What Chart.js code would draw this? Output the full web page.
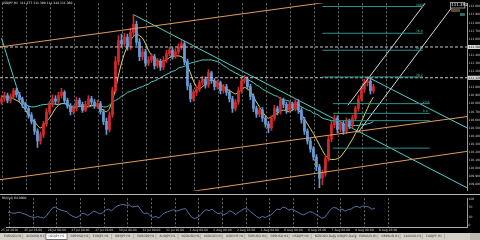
<!DOCTYPE html>
<html><head><meta charset="utf-8">
<script src="https://cdn.jsdelivr.net/npm/chart.js@4.4.1/dist/chart.umd.min.js"></script>
<style>
html,body{margin:0;padding:0;background:#000;width:480px;height:240px;overflow:hidden}
canvas{position:absolute;left:0}
#c1{top:0}
#sep{position:absolute;left:0;top:194px;width:480px;height:1px;background:#b8b8b8}
#c2{top:195px}
#c3{top:233px}
</style></head><body>
<canvas id="c1" width="480" height="194"></canvas>
<div id="sep"></div>
<canvas id="c2" width="480" height="38"></canvas>
<canvas id="c3" width="480" height="7"></canvas>
<script>
// ---------- DATA ----------
const open = [110.82,110.86,110.90,110.84,110.89,110.96,110.91,110.85,110.79,110.74,
 110.66,110.58,110.46,110.34,110.41,110.55,110.70,110.79,110.86,110.83,
 110.90,110.94,110.84,110.77,110.70,110.74,110.84,110.79,110.72,110.79,
 110.86,110.82,110.77,110.80,110.70,110.58,110.48,110.66,110.96,111.32,
 111.58,111.54,111.62,111.50,111.68,111.78,111.56,111.38,111.44,111.30,
 111.34,111.38,111.27,111.32,111.25,111.34,111.42,111.46,111.39,111.44,
 111.50,111.54,111.32,111.02,110.86,110.94,110.98,111.06,111.10,111.03,
 111.18,111.08,111.01,111.06,110.96,111.01,110.94,110.86,110.74,110.82,
 110.96,111.08,111.10,111.01,110.89,110.74,110.67,110.72,110.62,110.55,
 110.50,110.62,110.74,110.70,110.84,110.79,110.72,110.79,110.74,110.82,
 110.72,110.60,110.46,110.34,110.24,110.14,110.02,109.88,109.94,110.12,
 110.36,110.54,110.62,110.48,110.55,110.46,110.58,110.53,110.62,110.74,
 110.86,110.98,111.06,111.08,110.96];
const high = [110.90,110.94,110.93,110.92,110.99,110.99,110.94,110.88,110.82,110.77,
 110.69,110.61,110.49,110.45,110.58,110.74,110.83,110.91,110.90,110.94,
 110.99,110.96,110.87,110.80,110.78,110.88,110.87,110.82,110.83,110.90,
 110.89,110.85,110.84,110.83,110.73,110.62,110.70,111.00,111.38,111.64,
 111.66,111.67,111.66,111.73,111.90,111.82,111.60,111.48,111.47,111.38,
 111.42,111.41,111.36,111.35,111.38,111.46,111.50,111.49,111.48,111.54,
 111.58,111.57,111.35,111.05,110.97,111.02,111.09,111.14,111.13,111.22,
 111.20,111.11,111.09,111.08,111.04,111.04,110.97,110.89,110.85,111.00,
 111.12,111.15,111.13,111.04,110.92,110.77,110.75,110.75,110.65,110.58,
 110.65,110.78,110.77,110.88,110.87,110.82,110.82,110.82,110.86,110.85,
 110.75,110.63,110.49,110.37,110.27,110.17,110.05,109.98,110.16,110.40,
 110.58,110.66,110.65,110.58,110.58,110.62,110.61,110.66,110.77,110.90,
 111.02,111.10,111.13,111.11,111.04];
const low = [110.79,110.83,110.81,110.81,110.86,110.88,110.82,110.75,110.70,110.62,
 110.55,110.42,110.26,110.30,110.38,110.52,110.67,110.76,110.80,110.80,
 110.87,110.81,110.74,110.66,110.67,110.71,110.76,110.69,110.70,110.76,
 110.79,110.74,110.74,110.67,110.54,110.42,110.45,110.63,110.93,111.28,
 111.50,111.51,111.46,111.47,111.64,111.52,111.33,111.34,111.26,111.27,
 111.31,111.23,111.24,111.21,111.22,111.31,111.39,111.35,111.36,111.41,
 111.47,111.28,110.97,110.82,110.83,110.90,110.95,111.03,110.99,111.00,
 111.05,110.97,110.98,110.92,110.93,110.90,110.82,110.69,110.71,110.79,
 110.93,111.05,110.98,110.85,110.70,110.63,110.64,110.58,110.51,110.44,
 110.47,110.59,110.66,110.67,110.75,110.68,110.69,110.71,110.71,110.68,
 110.56,110.42,110.30,110.20,110.10,109.97,109.76,109.80,109.90,110.09,
 110.33,110.50,110.44,110.45,110.42,110.43,110.49,110.50,110.59,110.71,
 110.83,110.94,111.02,110.92,110.93];
const close = [110.86,110.90,110.84,110.89,110.96,110.91,110.85,110.79,110.74,110.66,
 110.58,110.46,110.34,110.41,110.55,110.70,110.79,110.86,110.83,110.90,
 110.94,110.84,110.77,110.70,110.74,110.84,110.79,110.72,110.79,110.86,
 110.82,110.77,110.80,110.70,110.58,110.48,110.66,110.96,111.32,111.58,
 111.54,111.62,111.50,111.68,111.78,111.56,111.38,111.44,111.30,111.34,
 111.38,111.27,111.32,111.25,111.34,111.42,111.46,111.39,111.44,111.50,
 111.54,111.32,111.02,110.86,110.94,110.98,111.06,111.10,111.03,111.18,
 111.08,111.01,111.06,110.96,111.01,110.94,110.86,110.74,110.82,110.96,
 111.08,111.10,111.01,110.89,110.74,110.67,110.72,110.62,110.55,110.50,
 110.62,110.74,110.70,110.84,110.79,110.72,110.79,110.74,110.82,110.72,
 110.60,110.46,110.34,110.24,110.14,110.02,109.88,109.94,110.12,110.36,
 110.54,110.62,110.48,110.55,110.46,110.58,110.53,110.62,110.74,110.86,
 110.98,111.06,111.08,110.96,111.01];
const maFast = [110.89,110.89,110.88,110.88,110.86,110.84,110.82,110.77,110.72,110.67,
 110.62,110.58,110.53,110.50,110.53,110.58,110.62,110.68,110.74,110.78,
 110.80,110.80,110.79,110.77,110.74,110.76,110.77,110.77,110.76,110.77,
 110.78,110.78,110.77,110.74,110.72,110.70,110.74,110.84,110.98,111.15,
 111.30,111.42,111.51,111.58,111.63,111.66,111.64,111.61,111.54,111.46,
 111.40,111.36,111.33,111.32,111.32,111.34,111.37,111.38,111.39,111.39,
 111.38,111.34,111.27,111.18,111.08,111.01,110.98,111.01,111.04,111.08,
 111.09,111.08,111.06,111.03,111.01,110.98,110.96,110.94,110.92,110.94,
 110.97,111.00,110.98,110.95,110.89,110.82,110.76,110.70,110.65,110.62,
 110.64,110.66,110.68,110.71,110.72,110.71,110.70,110.72,110.74,110.72,
 110.67,110.61,110.55,110.49,110.43,110.36,110.29,110.22,110.16,110.12,
 110.11,110.11,110.12,110.14,110.19,110.24,110.30,110.36,110.43,110.50,
 110.58,110.66,110.74,110.82,110.88];
const maSlow = [111.61,111.49,111.37,111.25,111.13,111.01,110.91,110.84,110.79,110.77,
 110.76,110.76,110.77,110.78,110.79,110.79,110.80,110.80,110.79,110.79,
 110.80,110.80,110.79,110.77,110.76,110.76,110.77,110.77,110.76,110.76,
 110.77,110.78,110.78,110.77,110.76,110.76,110.78,110.82,110.84,110.86,
 110.89,110.91,110.94,110.95,110.97,110.98,111.00,111.01,111.03,111.04,
 111.07,111.08,111.10,111.12,111.14,111.16,111.18,111.20,111.21,111.24,
 111.25,111.26,111.28,111.30,111.31,111.32,111.33,111.34,111.34,111.34,
 111.34,111.33,111.32,111.30,111.27,111.25,111.22,111.20,111.18,111.16,
 111.14,111.13,111.10,111.08,111.06,111.03,111.01,110.98,110.96,110.94,
 110.92,110.90,110.89,110.86,110.85,110.84,110.83,110.80,110.79,110.78,
 110.76,110.74,110.72,110.71,110.68,110.67,110.65,110.62,110.61,110.60,
 110.59,110.58,110.56,110.55,110.54,110.54,110.53,110.53,110.53,110.53,
 110.54,110.54,110.55,110.56,110.58];
const rsi = [50,48,46,48,50,45,42,36,32,30,
 34,30,28,36,52,66,70,62,58,55,
 52,40,34,30,34,46,44,38,46,54,
 50,44,48,58,62,56,66,74,78,80,
 76,78,70,72,74,58,44,48,38,30,
 34,28,40,48,52,56,60,54,58,62,
 64,48,32,26,30,38,52,60,56,62,
 52,44,48,40,46,56,50,42,50,58,
 64,62,52,44,34,28,34,30,36,40,
 52,62,60,70,66,58,62,56,50,44,
 40,46,52,50,42,36,28,30,44,60,
 68,66,58,62,54,60,62,70,72,68,
 74,72,70,62,64];
const priceTicks = [112.0,111.9,111.8,111.7,111.6,111.5,111.4,111.3,111.2,111.1,111.0,110.9,110.8,110.7,110.6,110.5,110.4,110.3,110.2,110.1,110.0,109.9,109.8];
const rsiTicks = [100,70,30,0];
const gridBars = [0.5,8.5,16.5,24.5,32.5,40.5,48.5,56.5,64.5,72.5,80.5,88.5,96.5,104.5,112.5,120.5,128.5];
const timeLabels = ["25 Jul 2018","25 Jul 16:00","26 Jul 08:00","27 Jul 00:00","27 Jul 16:00","30 Jul 08:00","31 Jul 00:00","31 Jul 16:00","1 Aug 08:00","2 Aug 00:00","2 Aug 16:00","3 Aug 08:00","6 Aug 00:00","6 Aug 16:00","7 Aug 08:00","8 Aug 00:00","8 Aug 16:00"];
// drawn objects: [bar index, price]
const trendA = [[44,111.90],[155.2,109.76]];
const trendB = [[122,111.13],[155.2,110.50]];
const chanTop = [[-0.5,111.50],[155.2,112.29]];
const chanMid = [[-0.5,109.86],[155.2,110.64]];
const chanLow = [[-0.5,109.37],[155.2,110.21]];
const fanA = [[115.5,110.78],[150,112.47]];
const fanB = [[118.8,110.44],[155.2,112.24]];
const hLines = [111.50,111.12];
const fibPrice = [112.00,111.67,111.46,111.13,110.80,110.68,110.59,110.25];
const fibFrom  = [107,107,107,107,110.5,110.5,110.5,110.5];
const fibTo    = [140.5,140.5,140.5,140.5,142.8,142.8,142.8,142.8];
const fibLabel = ["100.0","76.4","61.8","38.2","23.6","0.0","",""];
const symbolTitle = "USDJPY,H1  111.377 111.390 111.344 111.360";
const infoBox = "111.392";
const tabs = ["EURUSD,H1","AUDUSD,H1","USDJPY,H1","GBPUSD,H1","EURJPY,H1","GBPJPY,H1","EURGBP,H1","AUDJPY,H1","NZDUSD,H1","USDCAD,H1","USDCHF,H1","EURUSD,H4","GBPUSD,H4","USDJPY,H4","NZDUSD,Daily","USDJPY,Daily","EURAUD,H1","GBPAUD,H1","XAUUSD,H1","CADJPY,H1"];
const activeTab = 2;

// ---------- STYLE ----------
const UP='#d02a2a', DN='#6a9ad4', TEAL='#4ccfc8', FIB='#2f8f8a', YEL='#e2d85a', ORG='#dc9c5c', WHT='#d6d6d6';
const XMIN=-0.5, XMAX=155.2;
const pts = a => a.map(p=>({x:p[0],y:p[1]}));
const idx = close.map((_,i)=>i);
const cCol = idx.map(i=> close[i]>=open[i]?UP:DN);
const lineDs = (data,color,extra)=>Object.assign({type:'line',data,borderColor:color,borderWidth:1,pointRadius:0,fill:false},extra||{});

const ds = [];
[chanTop,chanMid,chanLow].forEach(c=>ds.push(lineDs(pts(c),ORG)));
fibPrice.forEach((p,i)=>ds.push(lineDs([{x:fibFrom[i],y:p},{x:fibTo[i],y:p}],FIB)));
hLines.forEach(p=>ds.push(lineDs([{x:XMIN,y:p},{x:XMAX,y:p}],'#c8c8c8',{borderDash:[3,2]})));
ds.push(lineDs(pts(fanA),WHT));
ds.push(lineDs(pts(fanB),WHT));
ds.push({type:'bar',data:idx.map(i=>({x:i,y:[low[i],high[i]]})),backgroundColor:cCol,barThickness:1,grouped:false,borderWidth:0});
ds.push({type:'bar',data:idx.map(i=>({x:i,y:[open[i],close[i]]})),backgroundColor:cCol,barThickness:2,grouped:false,borderWidth:0,minBarLength:1});
ds.push(lineDs(idx.map(i=>({x:i,y:maSlow[i]})),TEAL,{tension:0.3}));
ds.push(lineDs(idx.map(i=>({x:i,y:maFast[i]})),YEL,{tension:0.3}));
ds.push(lineDs(pts(trendA),TEAL));
ds.push(lineDs(pts(trendB),TEAL));

const FONT='3px "DejaVu Sans"';
const overlay = {id:'overlay', afterDatasetsDraw(ch){
  const {ctx,scales:{x,y}}=ch;
  ctx.save();
  ctx.font=FONT; ctx.textBaseline='bottom';
  fibPrice.forEach((p,i)=>{ if(!fibLabel[i])return; ctx.fillStyle='#5fc0b8'; ctx.fillText(fibLabel[i], x.getPixelForValue(fibTo[i])-7, y.getPixelForValue(p)-0.3); });
  ctx.textBaseline='middle';
  ctx.fillStyle='#e8e8e8'; ctx.fillText(symbolTitle, 2, 3.5);
  // info box top-right
  const bx=x.getPixelForValue(149.5);
  ctx.fillStyle='#000'; ctx.fillRect(bx,2,15,6); ctx.strokeStyle='#cfcfcf'; ctx.lineWidth=0.7; ctx.strokeRect(bx+0.5,2.5,14.5,5.5);
  ctx.font='4px "DejaVu Sans"'; ctx.fillStyle='#fff'; ctx.fillText(infoBox, bx+1.3, 5.3);
  ctx.fillStyle='#5a4a30'; ctx.fillRect(bx+1,9,9,3); ctx.fillStyle='#2a6a6a'; ctx.fillRect(bx+10,13,5,3);
  ctx.font=FONT;
  // highlighted axis labels for horizontal lines
  hLines.forEach(p=>{ const py=y.getPixelForValue(p); ctx.fillStyle='#d8d8d8'; ctx.fillRect(ch.chartArea.right+1,py-2,12,4); ctx.fillStyle='#000'; ctx.fillText(p.toFixed(3), ch.chartArea.right+1.5, py); });
  ctx.restore();
}};

new Chart(document.getElementById('c1'),{
  type:'line', data:{datasets:ds},
  options:{responsive:false,animation:false,devicePixelRatio:1,layout:{padding:0},
    plugins:{legend:{display:false},tooltip:{enabled:false}},
    scales:{
      x:{type:'linear',min:XMIN,max:XMAX,offset:false,
        afterBuildTicks:s=>{s.ticks=gridBars.map(v=>({value:v}));},
        afterFit:s=>{s.height=0;},
        ticks:{display:false},
        grid:{color:'#6e6e6e',drawTicks:false,offset:false},
        border:{display:false,dash:[2,2]}},
      y:{position:'right',min:109.724,max:112.04,
        afterBuildTicks:s=>{s.ticks=priceTicks.map(v=>({value:v}));},
        afterFit:s=>{s.width=13;},
        ticks:{font:{size:3,family:'DejaVu Sans'},color:'#d0d0d0',padding:1.5,callback:v=>v.toFixed(3)},
        grid:{display:false,drawTicks:false},
        border:{color:'#9a9a9a'}}
    }},
  plugins:[overlay]
});

const rsiOverlay={id:'rsiOverlay',afterDraw(ch){const c=ch.ctx;c.save();c.font=FONT;c.fillStyle='#e0e0e0';c.textBaseline='middle';c.fillText('RSI(14) '+rsi[rsi.length-1].toFixed(4),2,3);c.restore();}};
new Chart(document.getElementById('c2'),{
  type:'line',
  data:{datasets:[lineDs(idx.map(i=>({x:i,y:rsi[i]})),'#5a6fa6')]},
  options:{responsive:false,animation:false,devicePixelRatio:1,layout:{padding:{top:1}},
    plugins:{legend:{display:false},tooltip:{enabled:false}},
    scales:{
      x:{type:'linear',min:XMIN,max:XMAX,offset:false,
        afterBuildTicks:s=>{s.ticks=gridBars.map(v=>({value:v}));},
        afterFit:s=>{s.height=6;},
        ticks:{font:{size:3,family:'DejaVu Sans'},color:'#d0d0d0',maxRotation:0,autoSkip:false,padding:1,callback:(v,i)=>timeLabels[i]},
        grid:{color:'#6e6e6e',drawTicks:false},
        border:{color:'#b0b0b0',dash:[2,2]}},
      y:{position:'right',min:-6,max:103,
        afterBuildTicks:s=>{s.ticks=rsiTicks.map(v=>({value:v}));},
        afterFit:s=>{s.width=13;},
        ticks:{font:{size:3,family:'DejaVu Sans'},color:'#d0d0d0',padding:1.5},
        grid:{display:false,drawTicks:false},
        border:{color:'#9a9a9a'}}
    }},
  plugins:[rsiOverlay]
});

// tab bar
(function(){
  const cv=document.getElementById('c3'), c=cv.getContext('2d');
  c.fillStyle='#d4d0c8'; c.fillRect(0,0,480,7);
  c.font=FONT; c.textBaseline='middle';
  let x=1; const w=22.2;
  tabs.forEach((t,i)=>{
    if(x>468) return;
    if(i===activeTab){ c.fillStyle='#fff'; c.fillRect(x,0,w,6.5); c.strokeStyle='#555'; c.lineWidth=0.8; c.strokeRect(x+0.5,0,w-1,6.5); }
    else { c.strokeStyle='#9a9a9a'; c.lineWidth=0.6; c.beginPath(); c.moveTo(x+w-0.5,1); c.lineTo(x+w-0.5,6); c.stroke(); }
    c.fillStyle='#333'; c.fillText(t,x+3,3.6);
    x+=w;
  });
  c.fillStyle='#bdb9b2'; c.fillRect(470,0,10,7);
})();
</script>
</body></html>
